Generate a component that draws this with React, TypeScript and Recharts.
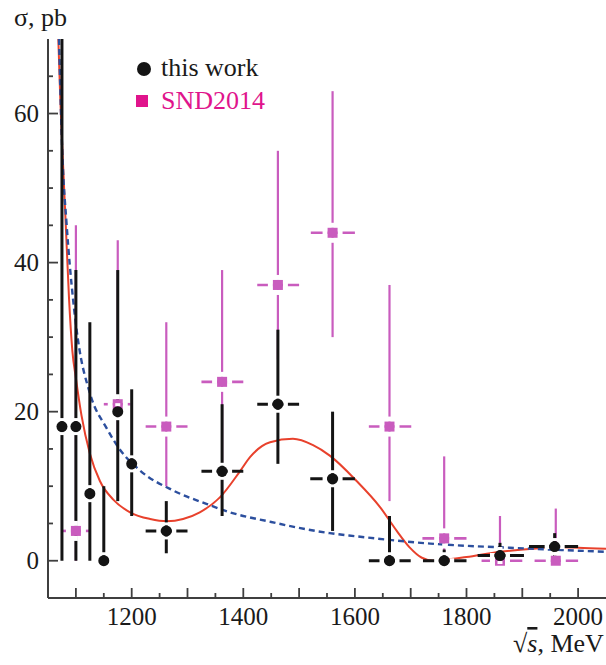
import React from 'react';
import { ComposedChart, XAxis, YAxis, Scatter, Line, ErrorBar } from 'recharts';

// ---- "this work" (black circles) ----
const twEnergy = [1075, 1100, 1125, 1150, 1175, 1200, 1262, 1362, 1462, 1560, 1662, 1760, 1860, 1958];
const twSigma = [18, 18, 9, 0, 20, 13, 4, 12, 21, 11, 0, 0, 0.7, 1.9];
const twSigmaLow = [0, 0, 0, 0, 8, 6, 1, 6, 13, 4, 0, 0, 0, 0.3];
const twSigmaHigh = [70, 39, 32, 10, 39, 23, 8, 21, 31, 20, 6, 1.5, 2.4, 3.7];
const twEnergyLow = [1075, 1100, 1125, 1150, 1175, 1200, 1225, 1325, 1425, 1520, 1625, 1722, 1820, 1912];
const twEnergyHigh = [1075, 1100, 1125, 1150, 1175, 1200, 1300, 1400, 1500, 1600, 1700, 1800, 1903, 2000];

// ---- SND2014 (magenta squares) ----
const sndEnergy = [1100, 1175, 1262, 1362, 1462, 1560, 1662, 1760, 1860, 1960];
const sndSigma = [4, 21, 18, 24, 37, 44, 18, 3, 0, 0];
const sndSigmaLow = [0, 17, 10, 13, 27, 30, 8, 0.5, 0, 0];
const sndSigmaHigh = [45, 43, 32, 39, 55, 63, 37, 14, 6, 7];
const sndEnergyLow = [1076, 1150, 1225, 1325, 1425, 1521, 1625, 1721, 1827, 1922];
const sndEnergyHigh = [1124, 1198, 1300, 1400, 1500, 1600, 1701, 1800, 1900, 2000];

// ---- fit curves ----
const redEnergy = [1068.5, 1072, 1075.6, 1081.7, 1087.6, 1093.6, 1100, 1110, 1125, 1143, 1167, 1197, 1233, 1263, 1292, 1322, 1358, 1394, 1412, 1448, 1489, 1525, 1555, 1603, 1645, 1675, 1698, 1720, 1740, 1760, 1800, 1860, 1920, 1960, 2000, 2050];
const redSigma = [70, 62, 55.5, 45.3, 35.3, 28.2, 24.5, 19.5, 14.4, 10.7, 8.2, 6.5, 5.6, 5.3, 5.6, 6.5, 8.5, 12, 13.9, 15.9, 16.35, 15.5, 14.1, 10.7, 7.2, 4.0, 1.8, 0.4, 0, 0.1, 0.5, 1.2, 1.6, 1.8, 1.75, 1.6];
const blueEnergy = [1069.7, 1076, 1083, 1095, 1104, 1125, 1155, 1180, 1215, 1275, 1335, 1376, 1450, 1500, 1555, 1600, 1662, 1735, 1800, 1860, 1950, 2050];
const blueSigma = [70, 54, 45.5, 35, 29.5, 22.5, 17.8, 14.8, 12.1, 9.4, 7.6, 6.5, 5.2, 4.4, 3.7, 3.3, 2.8, 2.3, 2.0, 1.8, 1.5, 1.2];

// ---- axes ----
const xTicks = [1100, 1150, 1200, 1250, 1300, 1350, 1400, 1450, 1500, 1550, 1600, 1650, 1700, 1750, 1800, 1850, 1900, 1950, 2000];
const xLabels = [1200, 1400, 1600, 1800, 2000];
const yTicks = [0, 5, 10, 15, 20, 25, 30, 35, 40, 45, 50, 55, 60, 65];
const yLabels = [0, 20, 40, 60];

const twData = twEnergy.map((E, i) => ({
  E,
  v: twSigma[i],
  yErr: [twSigma[i] - twSigmaLow[i], twSigmaHigh[i] - twSigma[i]],
  xErr: [E - twEnergyLow[i], twEnergyHigh[i] - E],
}));
const sndData = sndEnergy.map((E, i) => ({
  E,
  v: sndSigma[i],
  yErr: [sndSigma[i] - sndSigmaLow[i], sndSigmaHigh[i] - sndSigma[i]],
  xErr: [E - sndEnergyLow[i], sndEnergyHigh[i] - E],
}));
const redData = redEnergy.map((E, i) => ({ E, v: redSigma[i] }));
const blueData = blueEnergy.map((E, i) => ({ E, v: blueSigma[i] }));

const FONT = "'Liberation Serif', 'Times New Roman', serif";
const AXIS = '#3f3f3f';
const BLACK = '#141414';
const MAG = '#c95cbe';
const MAG_LEGEND = '#e0148c';
const RED = '#e8412c';
const BLUE = '#2c4f9e';

const YTick = (props: any) => {
  const { x, y, payload } = props;
  const v = payload.value;
  const major = yLabels.includes(v);
  return (
    <g>
      <line x1={x} x2={x + (major ? 10 : 5)} y1={y} y2={y} stroke={AXIS} strokeWidth={1.8} />
      {major && (
        <text x={x - 9} y={y + 8.5} textAnchor="end" fontFamily={FONT} fontSize={25} fill="#1a1a1a">
          {v}
        </text>
      )}
    </g>
  );
};

const XTick = (props: any) => {
  const { x, y, payload } = props;
  const v = payload.value;
  const major = v % 100 === 0;
  const labelled = xLabels.includes(v);
  return (
    <g>
      <line x1={x} x2={x} y1={y} y2={y - (major ? 10 : 5)} stroke={AXIS} strokeWidth={1.8} />
      {labelled && (
        <text x={x} y={y + 27} textAnchor="middle" fontFamily={FONT} fontSize={25} fill="#1a1a1a">
          {v}
        </text>
      )}
    </g>
  );
};

const TwShape = (p: any) => {
  const { cx, cy, payload } = p;
  const hasX = payload.xErr[0] > 0;
  return (
    <g>
      {hasX && <rect x={cx - 10} y={cy - 2.5} width={4.5} height={5} fill="#fff" />}
      {hasX && <rect x={cx + 5.5} y={cy - 2.5} width={4.5} height={5} fill="#fff" />}
      <rect x={cx - 2.5} y={cy - 8.5} width={5} height={3} fill="#fff" />
      <rect x={cx - 2.5} y={cy + 5.5} width={5} height={3} fill="#fff" />
      <circle cx={cx} cy={cy} r={5.5} fill={BLACK} />
    </g>
  );
};

const SndShape = (p: any) => {
  const { cx, cy } = p;
  return (
    <g>
      <rect x={cx - 10} y={cy - 2} width={5} height={4} fill="#fff" />
      <rect x={cx + 5} y={cy - 2} width={5} height={4} fill="#fff" />
      <rect x={cx - 2} y={cy - 10} width={4} height={5} fill="#fff" />
      <rect x={cx - 2} y={cy + 5} width={4} height={5} fill="#fff" />
      <rect x={cx - 5} y={cy - 5} width={10} height={10} fill={MAG} />
    </g>
  );
};

export default function App() {
  return (
    <div style={{ position: 'absolute', left: 0, top: 0, width: 606, height: 665, background: '#fff' }}>
      <ComposedChart width={606} height={665} margin={{ top: 39, right: 0, bottom: 27, left: 0 }}>
        <XAxis
          dataKey="E"
          type="number"
          domain={[1050, 2050]}
          allowDataOverflow
          ticks={xTicks}
          interval={0}
          height={40}
          tickSize={0}
          tickMargin={0}
          tickLine={false}
          axisLine={{ stroke: AXIS, strokeWidth: 2 }}
          tick={<XTick />}
        />
        <YAxis
          type="number"
          domain={[-5, 70]}
          allowDataOverflow
          ticks={yTicks}
          interval={0}
          width={48}
          tickSize={0}
          tickMargin={0}
          tickLine={false}
          axisLine={{ stroke: AXIS, strokeWidth: 2 }}
          tick={<YTick />}
        />
        <Line data={redData} dataKey="v" type="monotone" stroke={RED} strokeWidth={2} dot={false} isAnimationActive={false} />
        <Line data={blueData} dataKey="v" type="monotone" stroke={BLUE} strokeWidth={2.4} strokeDasharray="6 4" dot={false} isAnimationActive={false} />
        <Scatter data={sndData} dataKey="v" shape={<SndShape />} isAnimationActive={false}>
          <ErrorBar dataKey="yErr" direction="y" width={0} stroke={MAG} strokeWidth={2.2} />
          <ErrorBar dataKey="xErr" direction="x" width={0} stroke={MAG} strokeWidth={2.6} />
        </Scatter>
        <Scatter data={twData} dataKey="v" shape={<TwShape />} isAnimationActive={false}>
          <ErrorBar dataKey="yErr" direction="y" width={0} stroke={BLACK} strokeWidth={3} />
          <ErrorBar dataKey="xErr" direction="x" width={0} stroke={BLACK} strokeWidth={3} />
        </Scatter>
      </ComposedChart>
      <svg width={606} height={665} style={{ position: 'absolute', left: 0, top: 0, pointerEvents: 'none' }}>
        <text x={14} y={26} fontFamily={FONT} fontSize={26} fill="#1a1a1a">σ, pb</text>
        <circle cx={144} cy={69} r={7} fill={BLACK} />
        <text x={161} y={76} fontFamily={FONT} fontSize={26} fill="#1a1a1a">this work</text>
        <rect x={136} y={95} width={12} height={12} fill={MAG_LEGEND} />
        <text x={161} y={109} fontFamily={FONT} fontSize={26} fill={MAG_LEGEND}>SND2014</text>
        <text x={513} y={652} fontFamily={FONT} fontSize={26} fill="#1a1a1a">
          √<tspan fontStyle="italic" style={{ textDecoration: 'overline' }}>s</tspan>, MeV
        </text>
      </svg>
    </div>
  );
}
